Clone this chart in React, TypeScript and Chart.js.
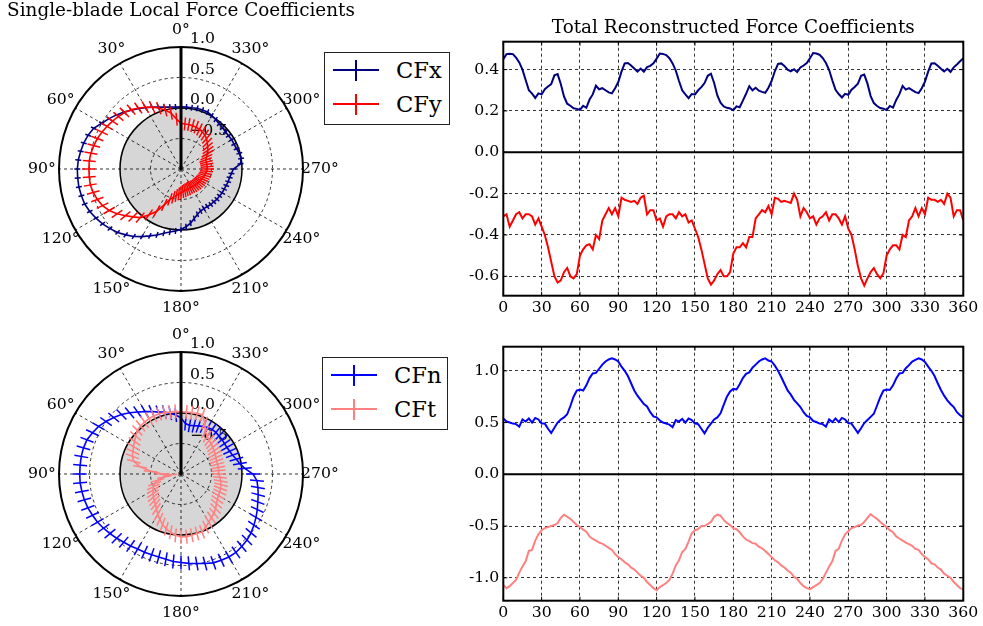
import React, { useEffect, useRef } from 'react';
import { Chart, registerables } from 'chart.js';

Chart.register(...registerables);

const FONT = "'DejaVu Serif', 'Liberation Serif', serif";
const TICK_PX = 15.7;
const TITLE_PX = 18.4;
const LEGEND_PX = 22.6;
const GREY = '#d6d6d6';
const NAVY = '#000080';
const RED = '#ff0000';
const BLUE = '#0000ff';
const PINK = '#ff8080';

// ---------- polar (single blade) data: angle in degrees, counter-clockwise from top ----------
const polarAngles = [
  0, 5, 10, 15, 20, 25, 30, 35, 40, 45, 50, 55, 60, 65, 70, 75, 80, 85,
  90, 95, 100, 105, 110, 115, 120, 125, 130, 135, 140, 145, 150, 155, 160, 165, 170, 175,
  180, 185, 190, 195, 200, 205, 210, 215, 220, 225, 230, 235, 240, 245, 250, 255, 260, 265,
  270, 275, 280, 285, 290, 295, 300, 305, 310, 315, 320, 325, 330, 335, 340, 345, 350, 355,
];
const cfxLocal = [
  0.02, 0.02, 0.03, 0.05, 0.08, 0.12, 0.16, 0.21, 0.26, 0.32, 0.38, 0.44, 0.50, 0.58, 0.62, 0.65, 0.67, 0.69,
  0.70, 0.70, 0.70, 0.69, 0.68, 0.65, 0.61, 0.57, 0.52, 0.47, 0.41, 0.35, 0.28, 0.21, 0.15, 0.09, 0.05, 0.02,
  -0.01, -0.05, -0.10, -0.16, -0.21, -0.24, -0.25, -0.25, -0.24, -0.24, -0.23, -0.23, -0.22, -0.22, -0.21, -0.20, -0.19, -0.17,
  -0.14, -0.02, 0.00, -0.01, -0.03, -0.04, -0.04, -0.05, -0.05, -0.04, -0.03, -0.01, 0.01, 0.03, 0.03, 0.03, 0.02, 0.02,
];
const cfyLocal = [
  -0.25, -0.18, -0.07, 0.0, 0.06, 0.12, 0.17, 0.22, 0.27, 0.31, 0.34, 0.37, 0.40, 0.43, 0.46, 0.48, 0.50, 0.51,
  0.51, 0.51, 0.51, 0.49, 0.46, 0.42, 0.36, 0.28, 0.19, 0.11, 0.04, -0.08, -0.20, -0.35, -0.47, -0.52, -0.56, -0.59,
  -0.61, -0.63, -0.64, -0.65, -0.65, -0.66, -0.66, -0.65, -0.65, -0.64, -0.64, -0.63, -0.63, -0.62, -0.61, -0.60, -0.59, -0.58,
  -0.57, -0.57, -0.57, -0.57, -0.57, -0.54, -0.50, -0.46, -0.43, -0.39, -0.35, -0.32, -0.30, -0.285, -0.27, -0.265, -0.26, -0.26,
];
const cfnLocal = [
  -0.08, -0.03, 0.01, 0.05, 0.08, 0.13, 0.18, 0.24, 0.31, 0.38, 0.44, 0.50, 0.56, 0.60, 0.64, 0.655, 0.66, 0.66,
  0.66, 0.66, 0.65, 0.64, 0.625, 0.60, 0.58, 0.55, 0.52, 0.49, 0.46, 0.44, 0.42, 0.415, 0.41, 0.41, 0.42, 0.44,
  0.45, 0.47, 0.49, 0.52, 0.55, 0.56, 0.57, 0.57, 0.55, 0.53, 0.50, 0.46, 0.42, 0.38, 0.34, 0.31, 0.28, 0.25,
  0.18, 0.05, -0.02, -0.06, -0.10, -0.12, -0.13, -0.13, -0.12, -0.12, -0.11, -0.11, -0.12, -0.14, -0.16, -0.18, -0.19, -0.17,
];
const cftLocal = [
  0.02, 0.03, 0.03, 0.04, 0.05, 0.05, 0.05, 0.04, 0.03, 0.01, -0.03, -0.07, -0.10, -0.13, -0.15, -0.20, -0.32, -0.50,
  -0.70, -0.82, -0.72, -0.60, -0.54, -0.50, -0.47, -0.44, -0.41, -0.38, -0.35, -0.30, -0.24, -0.18, -0.12, -0.07, -0.03, 0.01,
  0.03, 0.03, 0.02, 0.01, 0.01, -0.04, -0.09, -0.13, -0.16, -0.20, -0.24, -0.27, -0.29, -0.30, -0.31, -0.32, -0.34, -0.36,
  -0.38, -0.38, -0.38, -0.38, -0.38, -0.37, -0.35, -0.34, -0.32, -0.30, -0.28, -0.25, -0.20, -0.08, 0.03, 0.03, 0.02, 0.02,
];
const thetaTicks = [0, 30, 60, 90, 120, 150, 180, 210, 240, 270, 300, 330];
const rTicks = [-0.5, 0.0, 0.5, 1.0];

// ---------- total (three blades) data ----------
const lineAngles = [
  0, 2.5, 5, 7.5, 10, 12.5, 15, 17.5, 20, 22.5, 25, 27.5, 30, 32.5, 35, 37.5, 40, 42.5, 45, 47.5, 50, 52.5, 55, 57.5,
  60, 62.5, 65, 67.5, 70, 72.5, 75, 77.5, 80, 82.5, 85, 87.5, 90, 92.5, 95, 97.5, 100, 102.5, 105, 107.5, 110, 112.5, 115, 117.5,
  120, 122.5, 125, 127.5, 130, 132.5, 135, 137.5, 140, 142.5, 145, 147.5, 150, 152.5, 155, 157.5, 160, 162.5, 165, 167.5, 170, 172.5, 175, 177.5,
  180, 182.5, 185, 187.5, 190, 192.5, 195, 197.5, 200, 202.5, 205, 207.5, 210, 212.5, 215, 217.5, 220, 222.5, 225, 227.5, 230, 232.5, 235, 237.5,
  240, 242.5, 245, 247.5, 250, 252.5, 255, 257.5, 260, 262.5, 265, 267.5, 270, 272.5, 275, 277.5, 280, 282.5, 285, 287.5, 290, 292.5, 295, 297.5,
  300, 302.5, 305, 307.5, 310, 312.5, 315, 317.5, 320, 322.5, 325, 327.5, 330, 332.5, 335, 337.5, 340, 342.5, 345, 347.5, 350, 352.5, 355, 357.5,
  360,
];
const cfxTotal = [
  0.45, 0.475, 0.477, 0.475, 0.458, 0.435, 0.40, 0.35, 0.30, 0.284, 0.263, 0.285, 0.28, 0.305, 0.318, 0.33, 0.372, 0.378, 0.33, 0.27, 0.235, 0.225, 0.213, 0.21,
  0.205, 0.225, 0.215, 0.255, 0.28, 0.322, 0.305, 0.31, 0.30, 0.29, 0.285, 0.31, 0.34, 0.39, 0.43, 0.432, 0.42, 0.405, 0.39, 0.405, 0.39, 0.412, 0.418, 0.43,
  0.453, 0.478, 0.476, 0.47, 0.455, 0.43, 0.395, 0.345, 0.30, 0.28, 0.262, 0.282, 0.28, 0.30, 0.315, 0.335, 0.37, 0.38, 0.335, 0.275, 0.24, 0.222, 0.215, 0.212,
  0.203, 0.222, 0.218, 0.25, 0.283, 0.32, 0.30, 0.312, 0.298, 0.292, 0.288, 0.312, 0.345, 0.392, 0.428, 0.43, 0.418, 0.40, 0.392, 0.402, 0.388, 0.41, 0.42, 0.432,
  0.455, 0.48, 0.478, 0.472, 0.456, 0.432, 0.398, 0.348, 0.302, 0.282, 0.265, 0.283, 0.278, 0.303, 0.316, 0.332, 0.37, 0.376, 0.332, 0.272, 0.238, 0.224, 0.214, 0.211,
  0.204, 0.224, 0.216, 0.253, 0.281, 0.321, 0.303, 0.31, 0.301, 0.291, 0.286, 0.31, 0.342, 0.39, 0.43, 0.431, 0.419, 0.404, 0.391, 0.404, 0.389, 0.411, 0.425, 0.44,
  0.455,
];
const cfyTotal = [
  -0.31, -0.30, -0.36, -0.33, -0.30, -0.29, -0.32, -0.30, -0.30, -0.31, -0.35, -0.32, -0.36, -0.40, -0.46, -0.53, -0.60, -0.63, -0.62, -0.58, -0.56, -0.60, -0.61, -0.59,
  -0.50, -0.47, -0.45, -0.445, -0.47, -0.40, -0.42, -0.33, -0.30, -0.27, -0.30, -0.27, -0.31, -0.22, -0.23, -0.235, -0.24, -0.235, -0.25, -0.22, -0.21, -0.30, -0.28, -0.28,
  -0.33, -0.32, -0.36, -0.31, -0.30, -0.30, -0.32, -0.29, -0.31, -0.30, -0.34, -0.33, -0.37, -0.41, -0.47, -0.54, -0.61, -0.64, -0.62, -0.59, -0.57, -0.60, -0.60, -0.58,
  -0.49, -0.46, -0.46, -0.44, -0.46, -0.41, -0.41, -0.32, -0.30, -0.28, -0.29, -0.26, -0.30, -0.22, -0.225, -0.24, -0.235, -0.24, -0.245, -0.20, -0.23, -0.31, -0.27, -0.29,
  -0.32, -0.31, -0.35, -0.32, -0.31, -0.29, -0.33, -0.30, -0.30, -0.32, -0.35, -0.31, -0.37, -0.40, -0.47, -0.55, -0.61, -0.645, -0.61, -0.58, -0.56, -0.59, -0.61, -0.585,
  -0.50, -0.47, -0.45, -0.45, -0.47, -0.40, -0.41, -0.33, -0.31, -0.27, -0.31, -0.27, -0.30, -0.22, -0.23, -0.23, -0.24, -0.23, -0.25, -0.20, -0.22, -0.31, -0.28, -0.28,
  -0.33,
];
const cfnTotal = [
  0.54, 0.51, 0.50, 0.49, 0.485, 0.46, 0.53, 0.51, 0.54, 0.50, 0.545, 0.53, 0.49, 0.49, 0.44, 0.40, 0.45, 0.50, 0.53, 0.55, 0.58, 0.66, 0.75, 0.81,
  0.82, 0.81, 0.86, 0.93, 0.975, 0.98, 1.02, 1.06, 1.09, 1.11, 1.12, 1.11, 1.09, 1.04, 1.00, 0.95, 0.88, 0.81, 0.76, 0.72, 0.68, 0.655, 0.60, 0.56,
  0.55, 0.52, 0.50, 0.49, 0.48, 0.455, 0.525, 0.51, 0.535, 0.50, 0.54, 0.525, 0.49, 0.485, 0.44, 0.395, 0.45, 0.49, 0.53, 0.55, 0.59, 0.67, 0.75, 0.80,
  0.825, 0.82, 0.87, 0.93, 0.97, 0.985, 1.03, 1.06, 1.09, 1.11, 1.12, 1.10, 1.09, 1.05, 1.00, 0.94, 0.875, 0.81, 0.77, 0.72, 0.685, 0.65, 0.60, 0.565,
  0.55, 0.515, 0.505, 0.49, 0.485, 0.46, 0.53, 0.505, 0.54, 0.505, 0.545, 0.53, 0.495, 0.49, 0.445, 0.40, 0.445, 0.495, 0.525, 0.555, 0.585, 0.665, 0.745, 0.81,
  0.82, 0.815, 0.86, 0.925, 0.975, 0.98, 1.025, 1.055, 1.09, 1.105, 1.12, 1.11, 1.085, 1.04, 1.00, 0.95, 0.88, 0.815, 0.76, 0.715, 0.68, 0.65, 0.60, 0.57,
  0.55,
];
const cftTotal = [
  -1.07, -1.10, -1.08, -1.05, -1.02, -0.95, -0.89, -0.84, -0.74, -0.73, -0.64, -0.58, -0.54, -0.52, -0.51, -0.50, -0.49, -0.47, -0.42, -0.39, -0.41, -0.43, -0.46, -0.49,
  -0.51, -0.535, -0.555, -0.60, -0.625, -0.64, -0.66, -0.67, -0.69, -0.71, -0.73, -0.77, -0.80, -0.82, -0.85, -0.87, -0.90, -0.92, -0.95, -0.98, -1.00, -1.04, -1.07, -1.10,
  -1.12, -1.09, -1.07, -1.05, -1.02, -0.96, -0.88, -0.83, -0.75, -0.72, -0.65, -0.57, -0.54, -0.53, -0.50, -0.50, -0.48, -0.46, -0.41, -0.39, -0.40, -0.44, -0.47, -0.49,
  -0.52, -0.53, -0.56, -0.60, -0.63, -0.645, -0.665, -0.67, -0.70, -0.715, -0.74, -0.77, -0.80, -0.83, -0.85, -0.88, -0.90, -0.93, -0.95, -0.99, -1.01, -1.05, -1.08, -1.10,
  -1.11, -1.09, -1.07, -1.05, -1.01, -0.95, -0.89, -0.84, -0.74, -0.72, -0.64, -0.58, -0.55, -0.52, -0.51, -0.495, -0.49, -0.46, -0.42, -0.385, -0.41, -0.43, -0.46, -0.485,
  -0.51, -0.54, -0.56, -0.60, -0.62, -0.64, -0.66, -0.675, -0.69, -0.72, -0.73, -0.77, -0.80, -0.82, -0.86, -0.87, -0.90, -0.92, -0.96, -0.98, -1.00, -1.04, -1.07, -1.10,
  -1.11,
];
const xTicks = [0, 30, 60, 90, 120, 150, 180, 210, 240, 270, 300, 330, 360];
const topYTicks = [-0.6, -0.4, -0.2, 0.0, 0.2, 0.4];
const bottomYTicks = [-1.0, -0.5, 0.0, 0.5, 1.0];

// radar draws clockwise: reorder so that angles run counter-clockwise
const toRadar = <T,>(a: T[]): T[] => [a[0], ...a.slice(1).reverse()];
const radarLabels = toRadar(polarAngles);

const font = (size: number, lineHeight = 1.2) => ({ family: FONT, size, weight: 'normal' as const, lineHeight });

const polarDecor = {
  id: 'polarDecor',
  beforeDraw(chart: any) {
    const s = chart.scales.r;
    const ctx = chart.ctx;
    ctx.save();
    ctx.beginPath();
    ctx.arc(s.xCenter, s.yCenter, s.getDistanceFromCenterForValue(0), 0, Math.PI * 2);
    ctx.fillStyle = GREY;
    ctx.fill();
    ctx.restore();
  },
  beforeDatasetsDraw(chart: any) {
    const s = chart.scales.r;
    const ctx = chart.ctx;
    ctx.save();
    ctx.font = `${TICK_PX}px ${FONT}`;
    ctx.fillStyle = 'black';
    ctx.textAlign = 'left';
    ctx.textBaseline = 'middle';
    rTicks.forEach((v) => {
      const d = s.getDistanceFromCenterForValue(v);
      const txt = (v < 0 ? '\u2212' : '') + Math.abs(v).toFixed(1);
      ctx.fillText(txt, s.xCenter + 9, s.yCenter - d - 8);
    });
    ctx.restore();
  },
  afterDatasetsDraw(chart: any, _args: any, opts: any) {
    const s = chart.scales.r;
    const ctx = chart.ctx;
    ctx.save();
    ctx.strokeStyle = 'black';
    ctx.lineWidth = 3;
    ctx.beginPath();
    ctx.moveTo(s.xCenter, s.yCenter);
    ctx.lineTo(s.xCenter, s.yCenter - s.getDistanceFromCenterForValue(1));
    ctx.stroke();
    ctx.font = `${TICK_PX}px ${FONT}`;
    ctx.fillStyle = 'black';
    ctx.textAlign = 'center';
    ctx.textBaseline = 'middle';
    thetaTicks.forEach((t) => {
      const idx = radarLabels.indexOf(t);
      const p = s.getPointPosition(idx, s.drawingArea + 17);
      ctx.fillText(`${t}\u00b0`, p.x, p.y);
    });
    if (opts && opts.title) {
      ctx.font = `${TITLE_PX}px ${FONT}`;
      ctx.fillText(opts.title, s.xCenter, 11);
    }
    ctx.restore();
  },
};

type PolarSeries = { label: string; values: number[]; color: string; bar: number };

function polarConfig(series: PolarSeries[], title: string | null, padTop: number, padBottom: number) {
  return {
    type: 'radar',
    data: {
      labels: radarLabels,
      datasets: series.map((s, i) => ({
        label: s.label,
        data: toRadar(s.values),
        borderColor: s.color,
        backgroundColor: s.color,
        borderWidth: 1.6,
        fill: false,
        tension: 0,
        pointStyle: 'line',
        pointRadius: s.bar,
        pointHoverRadius: s.bar,
        pointBorderWidth: 1.5,
        pointBorderColor: s.color,
        pointRotation: (c: any) => 90 - radarLabels[c.dataIndex],
        order: series.length - i,
      })),
    },
    options: {
      animation: false,
      responsive: false,
      events: [],
      layout: { padding: { left: 59, right: 59, top: padTop, bottom: padBottom } },
      plugins: {
        legend: { display: false },
        tooltip: { enabled: false },
        title: { display: false },
        polarDecor: { title },
      },
      scales: {
        r: {
          min: -1,
          max: 1,
          startAngle: 0,
          ticks: { display: false, stepSize: 0.5 },
          pointLabels: { display: false },
          grid: {
            circular: true,
            color: 'black',
            lineWidth: (c: any) => (c.tick && c.tick.value === 1 ? 2 : c.tick && c.tick.value === 0 ? 1.5 : 0.8),
          },
          border: {
            dash: (c: any) => (c.tick && (c.tick.value === 0 || c.tick.value === 1) ? [] : [3, 3]),
          },
          angleLines: {
            color: 'black',
            lineWidth: (c: any) => (c.index % 6 === 0 ? 0.8 : 0),
            borderDash: [3, 3],
          },
        },
      },
    },
    plugins: [polarDecor],
  };
}

const frame = {
  id: 'frame',
  afterDatasetsDraw(chart: any) {
    const { ctx, chartArea: a } = chart;
    const x = chart.scales.x;
    const y = chart.scales.y;
    ctx.save();
    ctx.strokeStyle = 'black';
    const line = (x1: number, y1: number, x2: number, y2: number) => {
      ctx.beginPath();
      ctx.moveTo(x1, y1);
      ctx.lineTo(x2, y2);
      ctx.stroke();
    };
    ctx.lineWidth = 2;
    const y0 = y.getPixelForValue(0);
    line(a.left, y0, a.right, y0);
    ctx.lineWidth = 1;
    x.ticks.forEach((t: any) => {
      const px = x.getPixelForValue(t.value);
      line(px, a.bottom, px, a.bottom - 4);
      line(px, a.top, px, a.top + 4);
    });
    y.ticks.forEach((t: any) => {
      const py = y.getPixelForValue(t.value);
      line(a.left, py, a.left + 4, py);
      line(a.right, py, a.right - 4, py);
    });
    ctx.lineWidth = 2;
    ctx.strokeRect(a.left, a.top, a.right - a.left, a.bottom - a.top);
    ctx.restore();
  },
};

type LineSeries = { values: number[]; color: string };

function lineConfig(
  series: LineSeries[],
  yMin: number,
  yMax: number,
  yTicks: number[],
  title: string | null,
  padTop: number,
  xAxisH: number,
) {
  return {
    type: 'line',
    data: {
      datasets: series.map((s) => ({
        data: lineAngles.map((a, i) => ({ x: a, y: s.values[i] })),
        borderColor: s.color,
        borderWidth: 2,
        pointRadius: 0,
        tension: 0,
        fill: false,
      })),
    },
    options: {
      animation: false,
      responsive: false,
      events: [],
      layout: { padding: { left: 0, right: 19.7, top: padTop, bottom: 0 } },
      plugins: {
        legend: { display: false },
        tooltip: { enabled: false },
        title: title
          ? {
              display: true,
              text: title,
              color: 'black',
              fullSize: false,
              font: font(TITLE_PX, 1),
              padding: { top: 19.5, bottom: 3.8 },
            }
          : { display: false },
      },
      scales: {
        x: {
          type: 'linear',
          min: 0,
          max: 360,
          afterBuildTicks: (s: any) => {
            s.ticks = xTicks.map((v) => ({ value: v }));
          },
          afterFit: (s: any) => {
            s.height = xAxisH;
          },
          ticks: { color: 'black', font: font(TICK_PX), padding: 3, maxRotation: 0, autoSkip: false, callback: (v: any) => String(v) },
          grid: { color: 'black', lineWidth: 0.8, drawTicks: false },
          border: { display: false, dash: [3, 3] },
        },
        y: {
          type: 'linear',
          min: yMin,
          max: yMax,
          afterBuildTicks: (s: any) => {
            s.ticks = yTicks.map((v) => ({ value: v }));
          },
          afterFit: (s: any) => {
            s.width = 63.3;
          },
          ticks: { color: 'black', font: font(TICK_PX), padding: 4, autoSkip: false, callback: (v: any) => Number(v).toFixed(1) },
          grid: { color: (c: any) => (c.tick && c.tick.value === 0 ? 'rgba(0,0,0,0)' : 'black'), lineWidth: 0.8, drawTicks: false },
          border: { display: false, dash: [3, 3] },
        },
      },
    },
    plugins: [frame],
  };
}

function ChartBox({ left, top, width, height, make }: { left: number; top: number; width: number; height: number; make: () => any }) {
  const ref = useRef<HTMLCanvasElement>(null);
  useEffect(() => {
    const chart = new Chart(ref.current as HTMLCanvasElement, make());
    return () => chart.destroy();
  }, []);
  return (
    <canvas
      ref={ref}
      width={width}
      height={height}
      style={{ position: 'absolute', left, top, width, height }}
    />
  );
}

function Legend({ left, top, items }: { left: number; top: number; items: { label: string; color: string }[] }) {
  return (
    <div
      style={{
        position: 'absolute',
        left,
        top,
        width: 126,
        height: 73,
        boxSizing: 'border-box',
        border: '1.5px solid #222',
        background: 'white',
      }}
    >
      {items.map((it, i) => {
        const cy = 17 + i * 34;
        return (
          <React.Fragment key={it.label}>
            <div style={{ position: 'absolute', left: 7.5, top: cy - 1, width: 46, height: 2, background: it.color }} />
            <div style={{ position: 'absolute', left: 29.5, top: cy - 10.5, width: 2, height: 21, background: it.color }} />
            <div
              style={{
                position: 'absolute',
                left: 71,
                top: cy - 14,
                height: 28,
                lineHeight: '28px',
                fontFamily: FONT,
                fontSize: LEGEND_PX,
                color: 'black',
                whiteSpace: 'nowrap',
              }}
            >
              {it.label}
            </div>
          </React.Fragment>
        );
      })}
    </div>
  );
}

export default function App() {
  return (
    <div style={{ position: 'absolute', left: 0, top: 0, width: 983, height: 626, background: 'white', overflow: 'hidden' }}>
      <ChartBox
        left={0}
        top={0}
        width={362}
        height={320}
        make={() =>
          polarConfig(
            [
              { label: 'CFx', values: cfxLocal, color: NAVY, bar: 3 },
              { label: 'CFy', values: cfyLocal, color: RED, bar: 6.5 },
            ],
            'Single-blade Local Force Coefficients',
            47,
            29,
          )
        }
      />
      <ChartBox
        left={0}
        top={305}
        width={362}
        height={321}
        make={() =>
          polarConfig(
            [
              { label: 'CFn', values: cfnLocal, color: BLUE, bar: 7 },
              { label: 'CFt', values: cftLocal, color: PINK, bar: 7 },
            ],
            null,
            47,
            30,
          )
        }
      />
      <ChartBox
        left={440}
        top={0}
        width={543}
        height={318}
        make={() =>
          lineConfig(
            [
              { values: cfxTotal, color: NAVY },
              { values: cfyTotal, color: RED },
            ],
            -0.694,
            0.535,
            topYTicks,
            'Total Reconstructed Force Coefficients',
            0,
            22.3,
          )
        }
      />
      <ChartBox
        left={440}
        top={320}
        width={543}
        height={306}
        make={() =>
          lineConfig(
            [
              { values: cfnTotal, color: BLUE },
              { values: cftTotal, color: PINK },
            ],
            -1.221,
            1.233,
            bottomYTicks,
            null,
            26.7,
            25.3,
          )
        }
      />
      <Legend
        left={324}
        top={52}
        items={[
          { label: 'CFx', color: NAVY },
          { label: 'CFy', color: RED },
        ]}
      />
      <Legend
        left={322}
        top={357}
        items={[
          { label: 'CFn', color: BLUE },
          { label: 'CFt', color: PINK },
        ]}
      />
    </div>
  );
}
